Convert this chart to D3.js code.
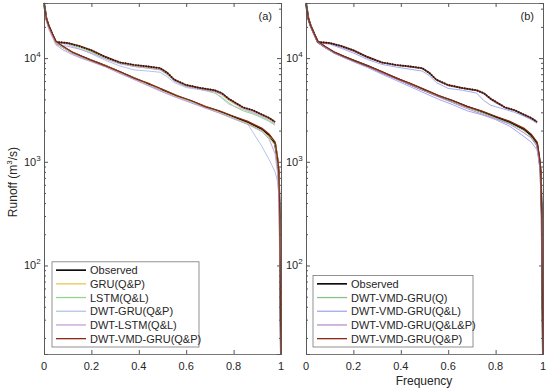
<!DOCTYPE html>
<html>
<head>
<meta charset="utf-8">
<script src="https://cdn.jsdelivr.net/npm/d3@7"></script>
<style>
  body { margin: 0; background: #fff; }
  text { font-family: "Liberation Sans", Arial, sans-serif; fill: #262626; }
</style>
</head>
<body>
<div id="chart"></div>
<script>
// frequency positions of the lower (solid) curves and the upper (dotted) curves
const freqLow = [0, 0.01, 0.02, 0.035, 0.05, 0.08, 0.12, 0.16, 0.2, 0.26, 0.32, 0.38, 0.44, 0.5, 0.56, 0.62, 0.68, 0.74, 0.8, 0.86, 0.92, 0.95, 0.975, 0.985, 0.99, 0.995, 0.997, 1];
const freqUp = [0.05, 0.1, 0.15, 0.2, 0.26, 0.32, 0.38, 0.44, 0.49, 0.52, 0.55, 0.6, 0.66, 0.72, 0.75, 0.78, 0.8, 0.84, 0.88, 0.92, 0.95, 0.975];

const observedLow = [34000, 24000, 20500, 17000, 14300, 12800, 11300, 10300, 9500, 8400, 7300, 6400, 5600, 4900, 4300, 3850, 3400, 3050, 2700, 2400, 2050, 1800, 1500, 1050, 800, 300, 60, 14];
const observedUp = [14300, 14000, 13000, 11900, 10200, 9100, 8600, 8300, 8000, 7200, 6200, 5500, 5150, 4900, 4600, 4050, 3800, 3350, 3150, 2850, 2650, 2430];

// panel (a) models
const gruQPLow = [33000, 23000, 20000, 16500, 14100, 12900, 11500, 10200, 9300, 8500, 7400, 6300, 5800, 4800, 4250, 3800, 3450, 3000, 2650, 2350, 2000, 1750, 1550, 1150, 850, 350, 70, 15];
const gruQPUp = [14300, 13800, 12800, 11600, 10000, 9000, 8400, 8100, 7800, 7000, 6100, 5400, 5050, 4800, 4400, 3900, 3650, 3250, 3000, 2750, 2550, 2350];
const lstmQLLow = [33500, 23500, 19500, 16800, 14000, 12600, 11200, 10200, 9600, 8300, 7200, 6500, 5500, 5000, 4400, 3800, 3350, 3000, 2650, 2300, 2000, 1700, 1450, 1000, 750, 280, 55, 14];
const lstmQLUp = [14300, 13700, 12700, 11500, 9900, 8900, 8300, 8000, 7700, 6900, 6000, 5300, 5000, 4600, 4200, 3700, 3450, 3100, 2900, 2650, 2450, 2250];
const dwtGruQPLow = [33800, 24500, 20000, 16800, 14200, 12700, 11000, 10100, 9400, 8300, 7200, 6300, 5500, 4800, 4200, 3750, 3300, 2950, 2600, 2300, 1400, 1050, 800, 650, 500, 200, 45, 14];
const dwtGruQPUp = [14200, 13500, 12300, 11000, 9500, 8400, 7700, 7500, 7300, 6600, 5800, 5200, 4950, 4700, 4100, 3600, 3450, 3200, 2950, 2700, 2500, 2300];
const dwtLstmQLLow = [34000, 23000, 19000, 16000, 13500, 12000, 10800, 9900, 9200, 8200, 7100, 6200, 5400, 4700, 4150, 3700, 3300, 2950, 2600, 2300, 1950, 1650, 1200, 800, 500, 150, 40, 14];
const dwtLstmQLUp = [13500, 13000, 12200, 11200, 9800, 8800, 8300, 8000, 7700, 7000, 6000, 5350, 5000, 4750, 4450, 3950, 3700, 3300, 3050, 2800, 2600, 2380];
const vmdQPLow = [34000, 24000, 20500, 17200, 14500, 13000, 11400, 10400, 9500, 8400, 7400, 6400, 5700, 5000, 4350, 3900, 3400, 3100, 2750, 2450, 2100, 1850, 1550, 1100, 850, 320, 65, 14];
const vmdQPUp = [14300, 14000, 13100, 11900, 10300, 9100, 8600, 8300, 8000, 7250, 6200, 5500, 5150, 4900, 4600, 4050, 3800, 3350, 3150, 2850, 2650, 2430];

// panel (b) models
const vmdQLow = [34000, 24000, 20500, 17000, 14300, 12800, 11300, 10300, 9500, 8400, 7300, 6400, 5600, 4850, 4300, 3800, 3350, 3000, 2650, 2350, 2000, 1750, 1450, 1000, 780, 290, 60, 14];
const vmdQUp = [14300, 13900, 12900, 11800, 10100, 9000, 8500, 8200, 7900, 7100, 6100, 5450, 5100, 4850, 4550, 4000, 3750, 3300, 3100, 2800, 2600, 2400];
const vmdQLLow = [34000, 24000, 20000, 16800, 14100, 12600, 11100, 10100, 9200, 8100, 7000, 6100, 5300, 4600, 4000, 3550, 3100, 2850, 2550, 2200, 1750, 1550, 1300, 950, 750, 280, 55, 14];
const vmdQLUp = [14200, 13600, 12400, 11200, 9700, 8700, 8200, 7800, 7500, 6800, 5800, 5100, 4900, 4600, 3900, 3500, 3400, 3200, 3000, 2750, 2550, 2350];
const vmdQLPLow = [34000, 24000, 20300, 16900, 14200, 12700, 11200, 10200, 9400, 8300, 7200, 6300, 5500, 4800, 4200, 3700, 3250, 2900, 2600, 2300, 1900, 1700, 1400, 1000, 780, 290, 58, 14];
const vmdQLPUp = [14300, 13800, 12700, 11600, 10000, 9000, 8500, 8200, 7900, 7100, 6100, 5400, 5100, 4850, 4500, 3950, 3700, 3300, 3100, 2800, 2600, 2400];

const xTicks = [0, 0.2, 0.4, 0.6, 0.8, 1];
const yMajor = [100, 1000, 10000];

const panels = [
    {tag: "(a)", left: 44, series: [
        {name: "GRU(Q&P)", color: "#e8c84e", low: gruQPLow, up: gruQPUp},
        {name: "LSTM(Q&L)", color: "#8ed88e", low: lstmQLLow, up: lstmQLUp},
        {name: "DWT-GRU(Q&P)", color: "#b4c4e6", low: dwtGruQPLow, up: dwtGruQPUp},
        {name: "DWT-LSTM(Q&L)", color: "#c6a0d8", low: dwtLstmQLLow, up: dwtLstmQLUp},
        {name: "DWT-VMD-GRU(Q&P)", color: "#8b2a10", low: vmdQPLow, up: vmdQPUp, main: true}
    ], legend: {x: 52, w: 147}},
    {tag: "(b)", left: 306, series: [
        {name: "DWT-VMD-GRU(Q)", color: "#88c088", low: vmdQLow, up: vmdQUp},
        {name: "DWT-VMD-GRU(Q&L)", color: "#a4aaee", low: vmdQLLow, up: vmdQLUp},
        {name: "DWT-VMD-GRU(Q&L&P)", color: "#b890cc", low: vmdQLPLow, up: vmdQLPUp},
        {name: "DWT-VMD-GRU(Q&P)", color: "#8b2a10", low: vmdQPLow, up: vmdQPUp, main: true}
    ], legend: {x: 313, w: 160}}
];

const plotTop = 3, plotBottom = 354, plotW = 237;
const legendBottom = 347;
const axisColor = "#555";

const svg = d3.select("#chart").append("svg")
    .attr("width", 550)
    .attr("height", 390);

const y = d3.scaleLog().domain([14, 34000]).range([plotBottom, plotTop]);

let minor = [];
[10, 100, 1000, 10000].forEach(function(d) {
    for (let k = 2; k <= 9; k++) {
        if (d * k >= 14 && d * k <= 34000) minor.push(d * k);
    }
});

panels.forEach(function(p) {
    const x = d3.scaleLinear().domain([0, 1]).range([p.left, p.left + plotW]);
    const g = svg.append("g");

    const line = function(freq) {
        return d3.line().x(function(d, i) { return x(freq[i]); }).y(function(d) { return y(d); });
    };

    // upper group: thin models and dotted observed
    p.series.forEach(function(s) {
        g.append("path").datum(s.up)
            .attr("d", line(freqUp))
            .attr("fill", "none")
            .attr("stroke", s.color)
            .attr("stroke-width", s.main ? 1.4 : 1);
    });
    g.append("path").datum(observedUp)
        .attr("d", line(freqUp))
        .attr("fill", "none")
        .attr("stroke", "#1a1a1a")
        .attr("stroke-width", 1.8)
        .attr("stroke-dasharray", "1.3,1.3");

    // lower group: observed then models
    g.append("path").datum(observedLow)
        .attr("d", line(freqLow))
        .attr("fill", "none")
        .attr("stroke", "#000")
        .attr("stroke-width", 2);
    p.series.forEach(function(s) {
        g.append("path").datum(s.low)
            .attr("d", line(freqLow))
            .attr("fill", "none")
            .attr("stroke", s.color)
            .attr("stroke-width", s.main ? 1.3 : 1);
    });

    // axes, ticks inside like matlab
    g.append("g").attr("transform", "translate(0," + plotBottom + ")")
        .call(d3.axisBottom(x).tickValues(xTicks).tickSize(-4).tickFormat(""));
    g.append("g").attr("transform", "translate(0," + plotTop + ")")
        .call(d3.axisTop(x).tickValues(xTicks).tickSize(-4).tickFormat(""));
    g.append("g").attr("transform", "translate(" + p.left + ",0)")
        .call(d3.axisLeft(y).tickValues(yMajor).tickSize(-4).tickFormat(""));
    g.append("g").attr("transform", "translate(" + p.left + ",0)")
        .call(d3.axisLeft(y).tickValues(minor).tickSize(-2).tickFormat(""));
    g.append("g").attr("transform", "translate(" + (p.left + plotW) + ",0)")
        .call(d3.axisRight(y).tickValues(yMajor).tickSize(-4).tickFormat(""));
    g.append("g").attr("transform", "translate(" + (p.left + plotW) + ",0)")
        .call(d3.axisRight(y).tickValues(minor).tickSize(-2).tickFormat(""));
    g.selectAll(".domain").attr("stroke", axisColor).attr("stroke-width", 0.8);
    g.selectAll(".tick line").attr("stroke", axisColor);

    xTicks.forEach(function(t) {
        g.append("text")
            .attr("x", x(t))
            .attr("y", 370)
            .attr("text-anchor", "middle")
            .attr("font-size", 11)
            .text(t);
    });
    yMajor.forEach(function(t) {
        const txt = g.append("text")
            .attr("x", p.left - 20)
            .attr("y", y(t) + 4)
            .attr("font-size", 11);
        txt.append("tspan").text("10");
        txt.append("tspan").attr("dy", -5).attr("font-size", 8).text(Math.round(Math.log10(t)));
    });

    g.append("text")
        .attr("x", p.left + plotW - 9)
        .attr("y", 20)
        .attr("text-anchor", "end")
        .attr("font-size", 11)
        .text(p.tag);

    // legend
    const items = [{name: "Observed", color: "#000", width: 1.6}].concat(p.series.map(function(s) {
        return {name: s.name, color: s.color, width: 1.3};
    }));
    const rowH = 13.7;
    const boxH = items.length * rowH + 3;
    const lg = g.append("g").attr("transform", "translate(" + p.legend.x + "," + (legendBottom - boxH) + ")");
    lg.append("rect")
        .attr("width", p.legend.w)
        .attr("height", boxH)
        .attr("fill", "#fff")
        .attr("stroke", "#777")
        .attr("stroke-width", 0.8);
    items.forEach(function(d, i) {
        const cy = 1.5 + (i + 0.5) * rowH;
        lg.append("line")
            .attr("x1", 4).attr("x2", 34)
            .attr("y1", cy).attr("y2", cy)
            .attr("stroke", d.color)
            .attr("stroke-width", d.width);
        lg.append("text")
            .attr("x", 38)
            .attr("y", cy + 4)
            .attr("font-size", 11)
            .text(d.name);
    });
});

const ylab = svg.append("text")
    .attr("transform", "translate(17,182) rotate(-90)")
    .attr("text-anchor", "middle")
    .attr("font-size", 12);
ylab.append("tspan").text("Runoff (m");
ylab.append("tspan").attr("dy", -5).attr("font-size", 8).text("3");
ylab.append("tspan").attr("dy", 5).text("/s)");

svg.append("text")
    .attr("x", 424)
    .attr("y", 385)
    .attr("text-anchor", "middle")
    .attr("font-size", 12)
    .text("Frequency");
</script>
</body>
</html>
